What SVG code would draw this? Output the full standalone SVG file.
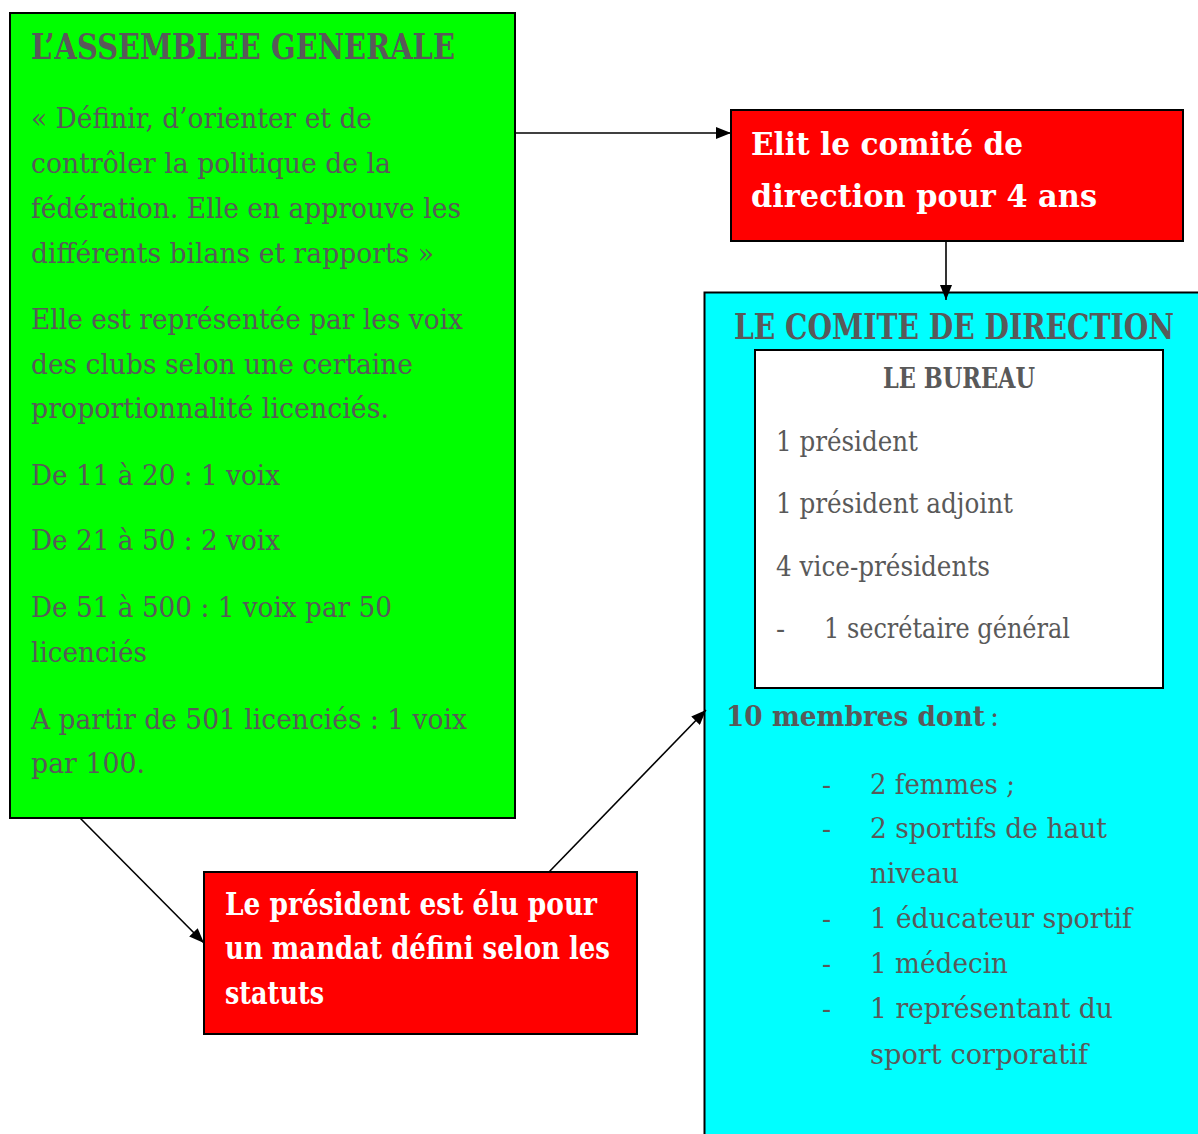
<svg xmlns="http://www.w3.org/2000/svg" width="1198" height="1134" viewBox="0 0 1198 1134">
<style>
.t{font-family:"DejaVu Serif","Liberation Serif",serif;fill:#595959;font-size:27px}
.b{font-weight:bold}
.h{font-family:"DejaVu Serif","Liberation Serif",serif;fill:#595959;font-weight:bold;font-size:36px}
.w{font-family:"DejaVu Serif","Liberation Serif",serif;fill:#ffffff;font-weight:bold;font-size:32px}
.box{stroke:#000;stroke-width:2}
.conn{stroke:#000;stroke-width:1.6;fill:none}
</style>
<defs>
<marker id="ah" viewBox="0 0 15 12" refX="15" refY="6" markerWidth="15" markerHeight="12" markerUnits="userSpaceOnUse" orient="auto">
<path d="M0,0 L15,6 L0,12 z" fill="#000"/>
</marker>
</defs>
<rect width="1198" height="1134" fill="#fff"/>

<g id="comite">
<rect class="box" x="704.5" y="292.5" width="494.5" height="842.5" fill="#00FFFF"/>
<text class="h" x="734" y="339" textLength="440" lengthAdjust="spacingAndGlyphs">LE COMITE DE DIRECTION</text>
<text class="t b" x="726" y="726" font-size="28" textLength="259" lengthAdjust="spacingAndGlyphs">10 membres dont</text>
<text class="t" x="990" y="726">:</text>
<text class="t" x="822" y="794">-</text>
<text class="t" x="870" y="794" textLength="145" lengthAdjust="spacingAndGlyphs">2 femmes ;</text>
<text class="t" x="822" y="838">-</text>
<text class="t" x="870" y="838" textLength="237" lengthAdjust="spacingAndGlyphs">2 sportifs de haut</text>
<text class="t" x="870" y="883" textLength="89" lengthAdjust="spacingAndGlyphs">niveau</text>
<text class="t" x="822" y="928">-</text>
<text class="t" x="870" y="928" textLength="262" lengthAdjust="spacingAndGlyphs">1 éducateur sportif</text>
<text class="t" x="822" y="973">-</text>
<text class="t" x="870" y="973" textLength="138" lengthAdjust="spacingAndGlyphs">1 médecin</text>
<text class="t" x="822" y="1018">-</text>
<text class="t" x="870" y="1018" textLength="243" lengthAdjust="spacingAndGlyphs">1 représentant du</text>
<text class="t" x="870" y="1064" textLength="218" lengthAdjust="spacingAndGlyphs">sport corporatif</text>
</g>

<g id="bureau">
<rect class="box" x="755" y="350" width="408" height="338" fill="#fff"/>
<text class="t b" x="883" y="388" textLength="152" lengthAdjust="spacingAndGlyphs">LE BUREAU</text>
<text class="t" x="776" y="451" textLength="142" lengthAdjust="spacingAndGlyphs">1 président</text>
<text class="t" x="776" y="513" textLength="237" lengthAdjust="spacingAndGlyphs">1 président adjoint</text>
<text class="t" x="776" y="576" textLength="214" lengthAdjust="spacingAndGlyphs">4 vice-présidents</text>
<text class="t" x="776" y="638">-</text>
<text class="t" x="824" y="638" textLength="246" lengthAdjust="spacingAndGlyphs">1 secrétaire général</text>
</g>

<g id="assemblee">
<rect class="box" x="10" y="13" width="505" height="805" fill="#00FF00"/>
<text class="h" x="31" y="59" textLength="424" lengthAdjust="spacingAndGlyphs">L’ASSEMBLEE GENERALE</text>
<text class="t" x="31" y="128" textLength="341" lengthAdjust="spacingAndGlyphs">« Définir, d’orienter et de</text>
<text class="t" x="31" y="173" textLength="360" lengthAdjust="spacingAndGlyphs">contrôler la politique de la</text>
<text class="t" x="31" y="218" textLength="430" lengthAdjust="spacingAndGlyphs">fédération. Elle en approuve les</text>
<text class="t" x="31" y="263" textLength="403" lengthAdjust="spacingAndGlyphs">différents bilans et rapports »</text>
<text class="t" x="31" y="329" textLength="432" lengthAdjust="spacingAndGlyphs">Elle est représentée par les voix</text>
<text class="t" x="31" y="374" textLength="382" lengthAdjust="spacingAndGlyphs">des clubs selon une certaine</text>
<text class="t" x="31" y="418" textLength="358" lengthAdjust="spacingAndGlyphs">proportionnalité licenciés.</text>
<text class="t" x="31" y="485" textLength="249" lengthAdjust="spacingAndGlyphs">De 11 à 20 : 1 voix</text>
<text class="t" x="31" y="550" textLength="249" lengthAdjust="spacingAndGlyphs">De 21 à 50 : 2 voix</text>
<text class="t" x="31" y="617" textLength="361" lengthAdjust="spacingAndGlyphs">De 51 à 500 : 1 voix par 50</text>
<text class="t" x="31" y="662" textLength="116" lengthAdjust="spacingAndGlyphs">licenciés</text>
<text class="t" x="31" y="729" textLength="436" lengthAdjust="spacingAndGlyphs">A partir de 501 licenciés : 1 voix</text>
<text class="t" x="31" y="773" textLength="114" lengthAdjust="spacingAndGlyphs">par 100.</text>
</g>

<g id="elit">
<rect class="box" x="731" y="110" width="452" height="131" fill="#FF0000"/>
<text class="w" x="751" y="155" textLength="272" lengthAdjust="spacingAndGlyphs">Elit le comité de</text>
<text class="w" x="751" y="207" textLength="346" lengthAdjust="spacingAndGlyphs">direction pour 4 ans</text>
</g>

<g id="president">
<rect class="box" x="204" y="872" width="433" height="162" fill="#FF0000"/>
<text class="w" x="225" y="915" font-size="29" textLength="372" lengthAdjust="spacingAndGlyphs">Le président est élu  pour</text>
<text class="w" x="225" y="959" font-size="29" textLength="385" lengthAdjust="spacingAndGlyphs">un mandat défini selon les</text>
<text class="w" x="225" y="1004" font-size="29" textLength="99" lengthAdjust="spacingAndGlyphs">statuts</text>
</g>

<g id="connectors">
<line class="conn" x1="516" y1="133" x2="731" y2="133" marker-end="url(#ah)"/>
<line class="conn" x1="946" y1="242" x2="946" y2="300" marker-end="url(#ah)"/>
<line class="conn" x1="80" y1="818" x2="204" y2="943" marker-end="url(#ah)"/>
<line class="conn" x1="549" y1="872" x2="706" y2="710" marker-end="url(#ah)"/>
</g>
</svg>
